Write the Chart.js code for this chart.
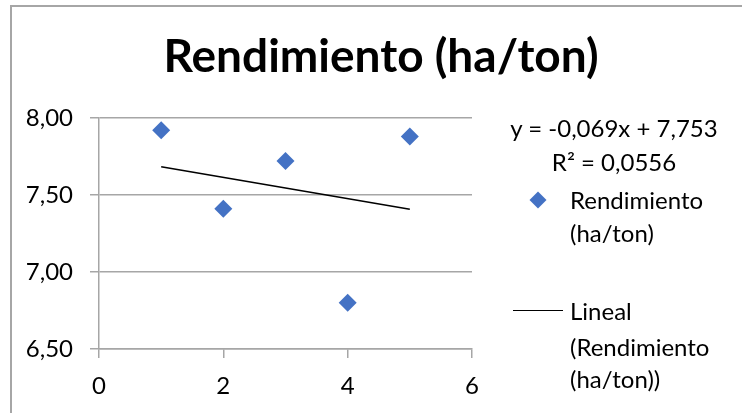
<!DOCTYPE html>
<html>
<head>
<meta charset="utf-8">
<script src="https://cdn.jsdelivr.net/npm/chart.js@4/dist/chart.umd.min.js"></script>
<style>
  html, body { margin: 0; padding: 0; background: #fff; overflow: hidden; }
  #wrap { position: relative; width: 742px; height: 413px; overflow: hidden; font-family: Lato, "Open Sans", sans-serif; color: #000; }
  #frame { position: absolute; left: 10px; top: 5px; width: 800px; height: 500px; border-left: 2px solid #a6a6a6; border-top: 2px solid #a6a6a6; }
  canvas { position: absolute; left: 0; top: 0; }
  .txt { position: absolute; font-size: 24px; line-height: 24px; white-space: nowrap; }
  .eq { left: 474px; width: 280px; text-align: center; }
  .swatch-diamond { position: absolute; width: 12px; height: 12px; background: #4472C4; transform: rotate(45deg); }
  .swatch-line { position: absolute; height: 0; border-top: 1.5px solid #000; }
</style>
</head>
<body>
<div id="wrap">
  <div id="frame"></div>
  <canvas id="chart" width="742" height="413"></canvas>
  <!-- trendline label and legend -->
  <div class="txt eq" id="eqLine" style="top:116px;"></div>
  <div class="txt eq" id="r2Line" style="top:150px;"></div>
  <div class="swatch-diamond" style="left:532px; top:194px;"></div>
  <div class="txt" id="legSeries1" style="left:570px; top:188px;"></div>
  <div class="txt" id="legSeries2" style="left:570px; top:221px;"></div>
  <div class="swatch-line" style="left:513px; width:50px; top:310px;"></div>
  <div class="txt" id="legTrend1" style="left:570px; top:299px;"></div>
  <div class="txt" id="legTrend2" style="left:570px; top:335px;"></div>
  <div class="txt" id="legTrend3" style="left:570px; top:367px;"></div>
</div>
<script>
// Yield per sample
const xValues = [1, 2, 3, 4, 5];
const rendimiento = [7.92, 7.41, 7.72, 6.80, 7.88];

// Linear trendline as reported on the chart
const trendSlope = -0.069;
const trendIntercept = 7.753;
const trendR2 = 0.0556;

const titleText = 'Rendimiento (ha/ton)';
const seriesName = 'Rendimiento (ha/ton)';

const xMin = 0, xMax = 6, xStep = 2;
const yMin = 6.5, yMax = 8, yStep = 0.5;

const fmt = (v, d) => v.toFixed(d).replace('.', ',');

const points = xValues.map((x, i) => ({ x: x, y: rendimiento[i] }));
const xFirst = Math.min(...xValues), xLast = Math.max(...xValues);
const trendPoints = [xFirst, xLast].map(x => ({ x: x, y: trendIntercept + trendSlope * x }));

document.getElementById('eqLine').textContent =
  'y = ' + fmt(trendSlope, 3) + 'x + ' + fmt(trendIntercept, 3);
document.getElementById('r2Line').textContent = 'R² = ' + fmt(trendR2, 4);
document.getElementById('legSeries1').textContent = 'Rendimiento';
document.getElementById('legSeries2').textContent = '(ha/ton)';
document.getElementById('legTrend1').textContent = 'Lineal';
document.getElementById('legTrend2').textContent = '(Rendimiento';
document.getElementById('legTrend3').textContent = '(ha/ton))';

const axisGray = '#a6a6a6';

new Chart(document.getElementById('chart'), {
  type: 'scatter',
  data: {
    datasets: [
      {
        label: seriesName,
        data: points,
        pointStyle: 'rectRot',
        pointRadius: 9,
        pointHoverRadius: 9,
        backgroundColor: '#4472C4',
        borderColor: '#4472C4',
        borderWidth: 0
      },
      {
        type: 'line',
        label: 'Lineal (' + seriesName + ')',
        data: trendPoints,
        borderColor: '#000',
        borderWidth: 1.5,
        pointRadius: 0,
        fill: false
      }
    ]
  },
  options: {
    responsive: false,
    animation: false,
    devicePixelRatio: 1,
    layout: { padding: { left: 20, right: 0, top: 0, bottom: 0 } },
    plugins: {
      legend: { display: false },
      tooltip: { enabled: false },
      title: {
        display: true,
        text: titleText,
        color: '#000',
        font: { family: 'Lato', size: 46, weight: 'bold', lineHeight: 1.2 },
        padding: { top: 30, bottom: 32.8 }
      }
    },
    scales: {
      x: {
        type: 'linear',
        min: xMin, max: xMax,
        afterFit: s => { s.height = 64; },
        ticks: { stepSize: xStep, color: '#000', padding: 14, font: { family: 'Lato', size: 24 } },
        grid: { drawOnChartArea: false, drawTicks: true, tickLength: 9, color: axisGray, lineWidth: 1.5 },
        border: { color: axisGray, width: 1.5 }
      },
      y: {
        type: 'linear',
        min: yMin, max: yMax,
        afterFit: s => { s.width = 79; },
        ticks: {
          stepSize: yStep, color: '#000', padding: 17,
          font: { family: 'Lato', size: 24 },
          callback: v => fmt(v, 2)
        },
        grid: { color: axisGray, lineWidth: 1.5, tickLength: 9 },
        border: { color: axisGray, width: 1.5 }
      },
      // empty band on the right that holds the trendline label and legend
      legendSpace: {
        type: 'linear',
        position: 'right',
        min: 0, max: 1,
        afterFit: s => { s.width = 270; },
        ticks: { display: false },
        grid: { display: false },
        border: { display: false }
      }
    }
  }
});
</script>
</body>
</html>
